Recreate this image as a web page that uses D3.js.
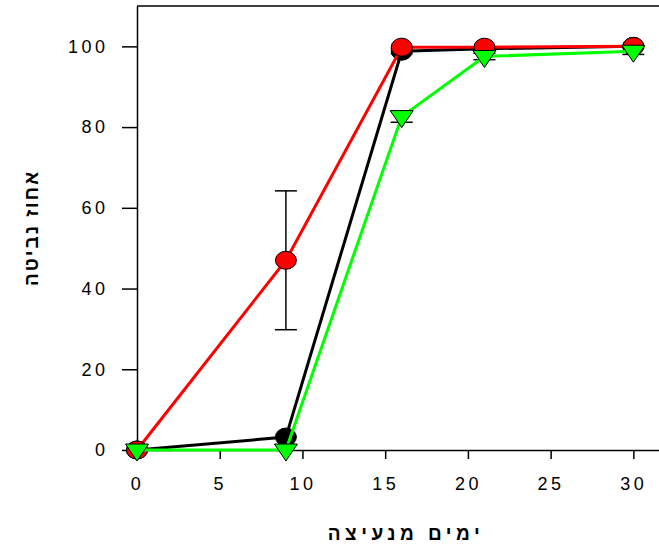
<!DOCTYPE html>
<html>
<head>
<meta charset="utf-8">
<script src="https://cdn.jsdelivr.net/npm/d3@7"></script>
<style>
  body { margin: 0; background: #fff; }
  .axis text { font-family: "Liberation Sans", Arial, sans-serif; font-size: 18px; letter-spacing: 3.5px; fill: #000; }
  .axis path, .axis line { stroke: #000; stroke-width: 1.5px; }
  .title { font-family: "Liberation Sans", Arial, sans-serif; font-size: 19px; font-weight: bold; }
</style>
</head>
<body>
<div id="chart"></div>
<script>
// days after planting
var days = [0, 9, 16, 21, 30];

// germination percent per treatment
var blackVals = [0, 3.2, 98.8, 99.4, 100];
var redVals = [0, 47, 99.8, 99.8, 100];
var greenVals = [0, 0, 82.6, 97.5, 98.8];

// standard errors
var blackErr = [0, 0, 0.6, 0, 0];
var redErr = [0, 17.2, 0, 0, 0];
var greenErr = [0, 0, 1.4, 0.8, 0.8];

var xTicks = [0, 5, 10, 15, 20, 25, 30];
var yTicks = [0, 20, 40, 60, 80, 100];

var series = [
  { name: 'black', vals: blackVals, err: blackErr, color: '#000000', shape: 'circle' },
  { name: 'red', vals: redVals, err: redErr, color: '#ff0000', shape: 'circle' },
  { name: 'green', vals: greenVals, err: greenErr, color: '#00ff00', shape: 'triangle' }
];

var width = 659, height = 547;
var margin = { top: 6, left: 137, bottom: 97 };

var svg = d3.select('#chart').append('svg')
  .attr('width', width)
  .attr('height', height);

var x = d3.scaleLinear().domain([0, 31.55]).range([margin.left, width]);
var y = d3.scaleLinear().domain([0, 110]).range([height - margin.bottom, margin.top]);

// frame top line
svg.append('line')
  .attr('x1', margin.left).attr('x2', width)
  .attr('y1', y(110)).attr('y2', y(110))
  .attr('stroke', '#000').attr('stroke-width', 1.5);

var yAxis = d3.axisLeft(y).tickValues(yTicks).tickSize(15).tickPadding(13.5).tickSizeOuter(0);
svg.append('g')
  .attr('class', 'axis')
  .attr('transform', 'translate(' + margin.left + ',0)')
  .call(yAxis);

var xAxis = d3.axisBottom(x).tickValues(xTicks).tickSize(9).tickPadding(18).tickSizeOuter(0);
svg.append('g')
  .attr('class', 'axis')
  .attr('transform', 'translate(0,' + y(0) + ')')
  .call(xAxis);

var line = d3.line()
  .x(function(d) { return x(d[0]); })
  .y(function(d) { return y(d[1]); });

series.forEach(function(s) {
  var pts = days.map(function(d, i) { return [d, s.vals[i], s.err[i]]; });
  var g = svg.append('g');

  // error bars
  pts.filter(function(p) { return p[2] > 0; }).forEach(function(p) {
    var cx = x(p[0]);
    g.append('line')
      .attr('x1', cx).attr('x2', cx)
      .attr('y1', y(p[1] - p[2])).attr('y2', y(p[1] + p[2]))
      .attr('stroke', '#000').attr('stroke-width', 1.5);
    [p[1] - p[2], p[1] + p[2]].forEach(function(v) {
      g.append('line')
        .attr('x1', cx - 11).attr('x2', cx + 11)
        .attr('y1', y(v)).attr('y2', y(v))
        .attr('stroke', '#000').attr('stroke-width', 1.5);
    });
  });

  g.append('path')
    .datum(pts)
    .attr('d', line)
    .attr('fill', 'none')
    .attr('stroke', s.color)
    .attr('stroke-width', 3);

  if (s.shape === 'circle') {
    g.selectAll('ellipse')
      .data(pts)
      .enter()
      .append('ellipse')
      .attr('cx', function(d) { return x(d[0]); })
      .attr('cy', function(d) { return y(d[1]); })
      .attr('rx', 10.5)
      .attr('ry', 9)
      .attr('fill', s.color)
      .attr('stroke', '#000')
      .attr('stroke-width', 1);
  } else {
    g.selectAll('path.mark')
      .data(pts)
      .enter()
      .append('path')
      .attr('class', 'mark')
      .attr('d', 'M-11.5,-6 L11.5,-6 L0,11 Z')
      .attr('transform', function(d) { return 'translate(' + x(d[0]) + ',' + y(d[1]) + ')'; })
      .attr('fill', s.color)
      .attr('stroke', '#000')
      .attr('stroke-width', 1);
  }
});

// axis titles
svg.append('text')
  .attr('class', 'title')
  .attr('x', 406)
  .attr('y', 540)
  .attr('text-anchor', 'middle')
  .style('letter-spacing', '4.5px')
  .text('ימים מנעיצה');

svg.append('text')
  .attr('class', 'title')
  .attr('transform', 'translate(38,228) rotate(-90)')
  .attr('text-anchor', 'middle')
  .style('letter-spacing', '2px')
  .text('אחוז נביטה');
</script>
</body>
</html>
